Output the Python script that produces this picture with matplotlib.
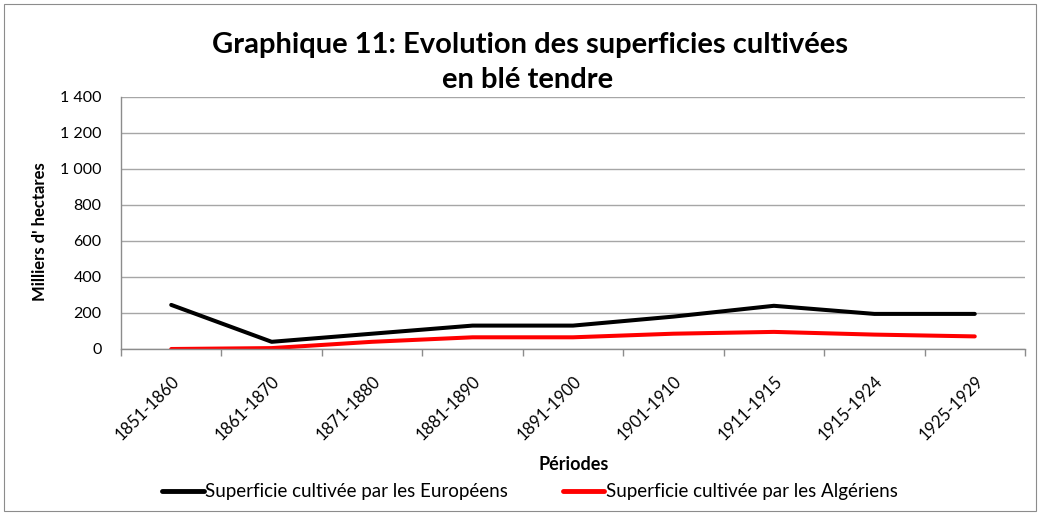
import matplotlib
matplotlib.use("Agg")
import matplotlib.pyplot as plt
from matplotlib.patches import Rectangle
from matplotlib.ticker import FuncFormatter, MultipleLocator, FixedLocator
from matplotlib.transforms import ScaledTranslation

periodes = ["1851-1860", "1861-1870", "1871-1880", "1881-1890", "1891-1900",
            "1901-1910", "1911-1915", "1915-1924", "1925-1929"]
europeens = [245, 40, 85, 130, 130, 180, 240, 195, 195]
algeriens = [0, 5, 40, 65, 65, 85, 95, 80, 70]

FONT = ["Lato", "DejaVu Sans"]
plt.rcParams['font.family'] = FONT

W, H = 1040, 515
fig = plt.figure(figsize=(W / 100, H / 100), dpi=100)
fig.patch.set_facecolor("white")

# chart border
fig.add_artist(Rectangle((4 / W, 1 - 511 / H), 1032 / W, 507 / H, transform=fig.transFigure,
                         fill=False, edgecolor="#8c8c8c", linewidth=0.8))

left, right, top, bottom = 121, 1025, 97, 349
ax = fig.add_axes([left / W, 1 - bottom / H, (right - left) / W, (bottom - top) / H])

x = list(range(len(periodes)))
ax.plot(x, europeens, color="black", linewidth=2.9, solid_capstyle="round",
        label="Superficie cultivée par les Européens")
ax.plot(x, algeriens, color="#ff0000", linewidth=2.9, solid_capstyle="round",
        label="Superficie cultivée par les Algériens")

ax.set_xlim(-0.5, len(periodes) - 0.5)
ax.set_ylim(0, 1400)
ax.yaxis.set_major_locator(MultipleLocator(200))
ax.yaxis.set_major_formatter(FuncFormatter(lambda v, p: f"{int(v):,}".replace(",", " ")))
ax.grid(axis="y", color="#a6a6a6", linewidth=1.0)
ax.set_axisbelow(True)

for s in ["top", "right"]:
    ax.spines[s].set_visible(False)
for s in ["left", "bottom"]:
    ax.spines[s].set_color("#8c8c8c")
    ax.spines[s].set_linewidth(1.0)

ax.set_xticks(x)
ax.set_xticklabels(periodes, rotation=45, ha="right", va="top", rotation_mode="anchor",
                   fontsize=12)
offset = ScaledTranslation(-5 / 100, 0, fig.dpi_scale_trans)
for lab in ax.get_xticklabels():
    lab.set_transform(lab.get_transform() + offset)
ax.xaxis.set_minor_locator(FixedLocator([i + 0.5 for i in range(len(periodes))] + [-0.5]))
ax.tick_params(axis="x", which="major", length=0, pad=17)
ax.tick_params(axis="x", which="minor", length=5, color="#8c8c8c", width=1.0)
ax.tick_params(axis="y", length=0, pad=14, labelsize=11.5)

fig.text(530 / W, 1 - 45 / H, "Graphique 11: Evolution des superficies cultivées",
         ha="center", va="center", fontsize=21, fontweight="bold")
fig.text(528 / W, 1 - 80 / H, "en blé tendre",
         ha="center", va="center", fontsize=21, fontweight="bold")

fig.text(40 / W, 1 - 232 / H, "Milliers d' hectares", rotation=90, ha="center", va="center",
         fontsize=12, fontweight="bold")
fig.text(574 / W, 1 - 465 / H, "Périodes", ha="center", va="center",
         fontsize=13, fontweight="bold")

leg = fig.legend(loc="center", bbox_to_anchor=(530 / W, 1 - 492 / H), ncol=2, frameon=False,
                 fontsize=13.5, handlelength=2.2, handletextpad=0.1, columnspacing=2.9)
for line in leg.get_lines():
    line.set_linewidth(3.5)

fig.savefig("out.png", dpi=100)
